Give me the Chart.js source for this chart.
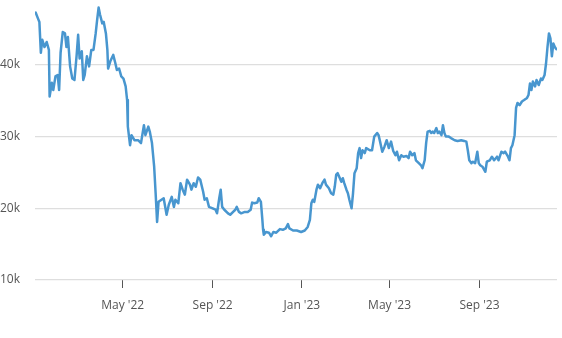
<!DOCTYPE html>
<html>
<head>
<meta charset="utf-8">
<script src="https://cdn.jsdelivr.net/npm/chart.js@4"></script>
<style>
  html, body { margin: 0; padding: 0; background: #fff; }
  #wrap { width: 562px; height: 338px; position: relative; }
</style>
</head>
<body>
<div id="wrap"><canvas id="c"></canvas></div>
<script>
// Days counted from 1 Jan 2022, with the closing price on that day (USD)
const days = [
  1, 4, 6, 8, 10, 13, 16, 19, 20, 23, 25, 28, 31, 33, 35, 38, 41, 43, 45, 48,
  51, 54, 57, 59, 61, 64, 66, 68, 71, 74, 77, 80, 83, 85, 87, 89, 92, 94, 97, 99,
  100, 103, 107, 110, 112, 115, 118, 121, 124, 126, 127, 130, 132, 136, 141, 145, 149, 151, 155, 157,
  160, 163, 165, 167, 169, 173, 176, 180, 183, 187, 190, 192, 196, 199, 202, 205, 208, 212, 214, 217,
  220, 223, 226, 230, 232, 235, 238, 243, 247, 249, 252, 254, 256, 259, 264, 267, 271, 274, 276, 279,
  282, 287, 291, 295, 297, 300, 304, 306, 309, 311, 312, 313, 316, 320, 323, 326, 330, 335, 339, 343,
  346, 348, 353, 358, 364, 369, 373, 376, 378, 380, 382, 385, 387, 390, 393, 396, 398, 402, 405, 408,
  410, 412, 414, 417, 419, 421, 423, 426, 428, 430, 433, 435, 437, 440, 442, 444, 446, 448, 451, 453,
  458, 461, 464, 468, 470, 472, 475, 478, 481, 484, 487, 490, 493, 495, 498, 501, 504, 508, 511, 513,
  516, 519, 521, 525, 528, 530, 533, 535, 537, 540, 542, 544, 546, 549, 551, 553, 556, 558, 560, 562,
  566, 569, 574, 578, 583, 587, 590, 592, 594, 597, 599, 602, 605, 607, 609, 612, 616, 618, 622, 625,
  628, 632, 634, 638, 641, 643, 647, 649, 651, 653, 656, 658, 660, 663, 666, 669, 673, 675, 677, 679,
  681, 684, 686, 689, 692, 694, 697, 699, 701, 703, 705, 707, 709, 711, 713
];
const prices = [
  47300, 46500, 46000, 41700, 43500, 42500, 43200, 42100, 35600, 37500, 36500, 38400, 38600, 36500, 41700, 44600, 44400, 42500, 43900, 39800,
  38100, 37900, 41400, 44200, 40900, 41900, 37900, 38600, 41200, 39800, 42100, 42100, 44400, 46300, 48000, 47000, 45800, 46000, 44400, 42100,
  39500, 40500, 41400, 40200, 39300, 39500, 38400, 38100, 37000, 35100, 31400, 28800, 30200, 29500, 29500, 29100, 31600, 30200, 31400, 30700,
  29100, 25800, 22100, 18100, 20900, 21200, 21400, 19100, 20500, 21600, 20200, 21200, 20700, 23500, 22600, 21900, 24000, 23300, 22600, 23500,
  23000, 24300, 24000, 22300, 21200, 21400, 20200, 20000, 19800, 19300, 21400, 22600, 20200, 19800, 19300, 19100, 19500, 19800, 20200, 19500,
  19300, 19500, 19500, 19800, 20800, 20700, 20800, 21400, 20900, 18400, 17000, 16300, 16700, 16600, 16100, 16700, 16600, 17100, 17000, 17200,
  17800, 17200, 16900, 16900, 16700, 16900, 17400, 18400, 20700, 21200, 20900, 22600, 23300, 22800, 23500, 24000, 23300, 22800, 22100, 21900,
  23000, 24700, 24900, 24200, 23700, 24200, 23500, 22600, 22100, 21200, 20000, 22100, 24900, 25600, 27700, 28400, 27000, 28100, 27700, 28400,
  28100, 28100, 30000, 30500, 30200, 29300, 27900, 28600, 29500, 28400, 29300, 28000, 27400, 27900, 26700, 27400, 27200, 27300, 27000, 27900,
  27400, 27700, 26700, 26300, 26000, 25600, 26700, 29100, 30700, 30800, 30500, 30700, 30500, 31200, 30500, 30700, 30200, 31600, 30500, 30000,
  30000, 29800, 29500, 29400, 29500, 29400, 29300, 28100, 26700, 26300, 26500, 26300, 27900, 26300, 26000, 25800, 25100, 26500, 26700, 27200,
  26700, 27200, 26700, 27900, 27700, 27900, 27200, 26700, 28400, 28800, 30200, 34000, 34700, 34400, 34900, 35100, 35400, 35800, 37400, 36500,
  37700, 37000, 37900, 37200, 38100, 37900, 38600, 40200, 42500, 44400, 43700, 41200, 43000, 42500, 42200
];

// Axis ticks
const priceTicks = [10000, 20000, 30000, 40000];
const monthTickDays = [120, 243, 365, 485, 608];
const monthTickLabels = ["May '22", "Sep '22", "Jan '23", "May '23", "Sep '23"];

const points = days.map((d, i) => ({ x: d, y: prices[i] }));

const FONT = { family: "'Open Sans', 'DejaVu Sans', sans-serif", size: 12 };

new Chart(document.getElementById('c'), {
  type: 'line',
  data: {
    datasets: [{
      data: points,
      borderColor: '#4896cf',
      borderWidth: 2.5,
      pointRadius: 0,
      pointHoverRadius: 0,
      tension: 0,
      borderJoinStyle: 'round',
      borderCapStyle: 'round',
      fill: false
    }]
  },
  options: {
    responsive: true,
    maintainAspectRatio: false,
    animation: false,
    events: [],
    layout: { autoPadding: false, padding: { top: 4, right: 5, bottom: 0, left: 0 } },
    plugins: { legend: { display: false }, tooltip: { enabled: false } },
    scales: {
      x: {
        type: 'linear',
        min: 0,
        max: 714,
        afterBuildTicks: (scale) => { scale.ticks = monthTickDays.map(v => ({ value: v })); },
        afterFit: (scale) => { scale.height = 58; },
        ticks: {
          autoSkip: false,
          maxRotation: 0,
          padding: 10,
          color: '#555',
          font: FONT,
          callback: (v) => {
            const i = monthTickDays.indexOf(v);
            return i >= 0 ? monthTickLabels[i] : '';
          }
        },
        grid: {
          drawOnChartArea: false,
          drawTicks: true,
          tickLength: 8,
          color: '#555',
          lineWidth: 1
        },
        border: { display: false }
      },
      y: {
        type: 'linear',
        min: 10000,
        max: 48500,
        afterBuildTicks: (scale) => { scale.ticks = priceTicks.map(v => ({ value: v })); },
        afterFit: (scale) => { scale.width = 35; scale.paddingTop = 0; scale.paddingBottom = 0; },
        ticks: {
          padding: 15,
          color: '#555',
          font: FONT,
          callback: (v) => (v / 1000) + 'k'
        },
        grid: {
          drawTicks: false,
          color: '#dedede',
          lineWidth: 1.2
        },
        border: { display: false }
      }
    }
  }
});
</script>
</body>
</html>
